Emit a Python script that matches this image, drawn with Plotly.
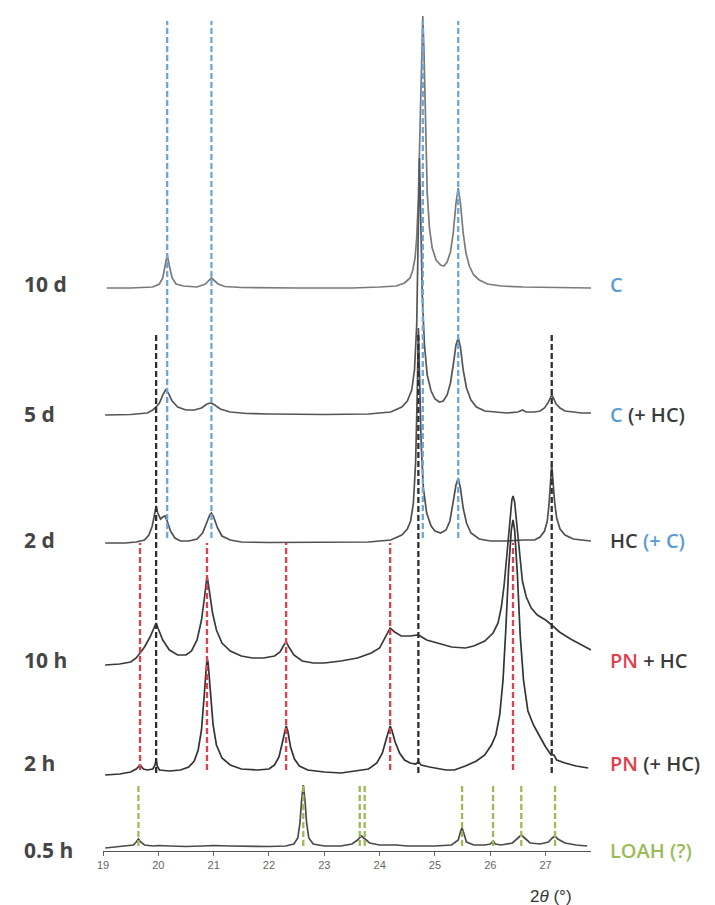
import plotly.graph_objects as go

# ---------------- data ----------------
SAMPLES = ["10 d", "5 d", "2 d", "10 h", "2 h", "0.5 h"]
PHASE_LABELS = [
    "<span style='color:#5b9bd5'>C</span>",
    "<span style='color:#5b9bd5'>C</span> (+ HC)",
    "HC <span style='color:#5b9bd5'>(+ C)</span>",
    "<span style='color:#e0404c'>PN</span> + HC",
    "<span style='color:#e0404c'>PN</span> (+ HC)",
    "<span style='color:#9bbb59'>LOAH (?)</span>",
]
# vertical stacking offsets (intensity units)
OFFSETS = [563, 436, 308, 186, 76, 3]

X_10D = [19.07, 19.5, 19.9, 20.02, 20.08, 20.12, 20.16, 20.2, 20.25, 20.32, 20.45, 20.7, 20.85, 20.92,
         20.96, 21.0, 21.08, 21.2, 21.5, 22.5, 23.5, 24.0, 24.3, 24.45, 24.55, 24.6, 24.64, 24.67, 24.7,
         24.73, 24.76, 24.78, 24.8, 24.83, 24.86, 24.9, 24.95, 25.02, 25.1, 25.16, 25.22, 25.28, 25.33,
         25.38, 25.42, 25.46, 25.51, 25.56, 25.62, 25.7, 25.8, 25.95, 26.2, 26.6, 27.2, 27.82]
Y_10D = [0, 0, 1, 4, 10, 22, 33, 22, 10, 4, 2, 1, 4, 8,
         10, 8, 4, 1.5, 0.5, 0, 0, 1, 2, 5, 10, 18, 30, 50, 90,
         160, 240, 272, 240, 160, 95, 60, 40, 28, 23, 22, 26, 36, 55,
         85, 100, 85, 55, 35, 22, 13, 8, 4, 2, 1, 0.5, 0]

X_5D = [19.04, 19.5, 19.8, 19.9, 19.96, 20.02, 20.08, 20.13, 20.18, 20.25, 20.35, 20.5, 20.65, 20.78,
        20.88, 20.95, 21.02, 21.12, 21.3, 21.6, 22.0, 23.0, 23.8, 24.2, 24.4, 24.5, 24.58, 24.63, 24.67,
        24.7, 24.72, 24.745, 24.77, 24.81, 24.86, 24.93, 25.0, 25.08, 25.15, 25.22, 25.28, 25.33, 25.38,
        25.42, 25.46, 25.51, 25.57, 25.65, 25.75, 25.9, 26.1, 26.3, 26.5, 26.58, 26.65, 26.8, 26.9,
        26.98, 27.04, 27.08, 27.11, 27.14, 27.19, 27.26, 27.35, 27.5, 27.65, 27.82]
Y_5D = [0, 0.5, 2, 5, 8, 12, 20, 25, 22, 14, 8, 5, 5, 7,
        11, 12, 10, 6, 3, 1.5, 1, 0.5, 1, 3, 8, 14, 25, 45, 90,
        170, 257, 190, 120, 70, 40, 24, 16, 13, 14, 20, 32, 50, 70,
        77, 68, 45, 27, 15, 8, 4, 3, 2, 3, 5, 3, 3, 4,
        7, 12, 17, 20, 17, 11, 7, 4, 3, 2, 2]

X_2D = [19.04, 19.4, 19.6, 19.75, 19.83, 19.89, 19.93, 19.96, 19.99, 20.04, 20.08, 20.12, 20.16, 20.22,
        20.3, 20.4, 20.55, 20.7, 20.8, 20.87, 20.93, 20.96, 21.0, 21.07, 21.15, 21.3, 21.5, 22.0, 23.0,
        23.8, 24.2, 24.4, 24.5, 24.56, 24.61, 24.65, 24.68, 24.7, 24.72, 24.75, 24.79, 24.85, 24.93,
        25.0, 25.1, 25.2, 25.27, 25.33, 25.38, 25.42, 25.46, 25.51, 25.57, 25.65, 25.8, 26.0, 26.3,
        26.6, 26.8, 26.9, 26.98, 27.03, 27.06, 27.09, 27.11, 27.13, 27.16, 27.2, 27.26, 27.35, 27.5,
        27.65, 27.82]
Y_2D = [0, 0, 1, 3, 8, 17, 28, 37, 30, 24, 26, 27, 22, 12,
        5, 2, 2, 4, 10, 20, 28, 30, 26, 15, 7, 3, 1, 0.5, 0.5,
        1, 3, 8, 14, 22, 40, 80, 150, 215, 170, 100, 55, 30, 17,
        12, 10, 13, 22, 40, 58, 65, 55, 35, 20, 10, 4, 2, 2,
        3, 3, 6, 12, 22, 38, 62, 78, 65, 42, 25, 14, 8, 4,
        3, 2]

X_10H = [19.04, 19.3, 19.5, 19.6, 19.67, 19.75, 19.85, 19.92, 19.96, 20.0, 20.08, 20.2, 20.35, 20.5,
         20.6, 20.7, 20.78, 20.84, 20.88, 20.92, 20.98, 21.05, 21.15, 21.3, 21.5, 21.7, 21.9, 22.1,
         22.2, 22.27, 22.31, 22.36, 22.45, 22.6, 22.8, 23.0, 23.3, 23.6, 23.85, 24.0, 24.1, 24.19,
         24.27, 24.39, 24.55, 24.7, 24.85, 25.06, 25.3, 25.55, 25.7, 25.9, 26.05, 26.14, 26.2, 26.25,
         26.3, 26.35, 26.39, 26.41, 26.44, 26.48, 26.53, 26.58, 26.65, 26.74, 26.85, 27.0, 27.11,
         27.25, 27.45, 27.65, 27.82]
Y_10H = [0, 1, 3, 7, 12, 18, 28, 38, 42, 36, 25, 15, 10, 10,
         14, 25, 45, 70, 89, 75, 52, 35, 22, 14, 9, 7, 7, 9,
         13, 20, 23, 18, 10, 4, 2, 2, 4, 7, 12, 17, 27, 37,
         33, 29, 29, 30, 25, 22, 18, 17, 19, 24, 32, 42, 58, 80,
         110, 145, 165, 169, 163, 140, 108, 84, 68, 57, 50, 45, 40,
         33, 26, 20, 15]

X_2H = [19.04, 19.3, 19.5, 19.6, 19.67, 19.73, 19.8, 19.9, 19.94, 19.96, 19.98, 20.02, 20.2, 20.4,
        20.55, 20.65, 20.72, 20.78, 20.83, 20.86, 20.88, 20.9, 20.94, 20.99, 21.05, 21.15, 21.3, 21.5,
        21.8, 22.0, 22.1, 22.18, 22.24, 22.29, 22.31, 22.34, 22.39, 22.46, 22.55, 22.7, 23.0, 23.3,
        23.6, 23.8, 23.95, 24.05, 24.12, 24.17, 24.19, 24.22, 24.28, 24.36, 24.45, 24.55, 24.65, 24.7,
        24.75, 24.9, 25.0, 25.2, 25.35, 25.55, 25.75, 25.9, 26.02, 26.1, 26.17, 26.23, 26.28, 26.33,
        26.38, 26.41, 26.44, 26.49, 26.54, 26.6, 26.68, 26.78, 26.88, 27.0, 27.1, 27.15, 27.2, 27.35,
        27.55, 27.77]
Y_2H = [0, 1, 3, 6, 10, 6, 5, 6, 10, 15, 9, 5, 4, 5,
        8, 14, 25, 45, 80, 105, 117, 112, 85, 50, 30, 17, 10, 6,
        5, 6, 10, 18, 32, 46, 49, 44, 28, 16, 9, 5, 3, 2,
        4, 6, 12, 22, 36, 46, 49, 45, 33, 22, 15, 12, 11, 13,
        10, 8, 7, 5, 5, 9, 14, 20, 30, 40, 60, 95, 145, 205,
        245, 255, 245, 200, 140, 95, 64, 50, 40, 28, 20, 20, 15, 12,
        9, 7]

X_05H = [19.04, 19.2, 19.4, 19.55, 19.6, 19.64, 19.68, 19.75, 19.9, 20.0, 20.2, 20.5, 20.8, 21.0,
         21.3, 21.6, 22.0, 22.3, 22.45, 22.52, 22.56, 22.59, 22.62, 22.65, 22.68, 22.72, 22.8, 23.0,
         23.3, 23.5, 23.6, 23.67, 23.74, 23.82, 24.0, 24.3, 24.5, 25.0, 25.3, 25.42, 25.47, 25.49,
         25.52, 25.57, 25.7, 25.9, 26.0, 26.05, 26.09, 26.2, 26.4, 26.5, 26.56, 26.62, 26.72, 26.9,
         27.05, 27.12, 27.17, 27.22, 27.35, 27.55, 27.75]
Y_05H = [0, 1, 2, 3, 6, 9, 6, 3, 2, 2.5, 2, 1.5, 2, 2.5,
         2, 1.5, 1.5, 2, 4, 10, 25, 48, 63, 48, 25, 10, 4, 2,
         2, 4, 8, 12, 9, 5, 3, 3, 2, 2, 3, 8, 18, 20,
         15, 6, 3, 3, 4, 7, 4, 3, 5, 10, 13, 10, 5, 4,
         6, 10, 12, 9, 5, 3, 2]

PATTERNS_X = [X_10D, X_5D, X_2D, X_10H, X_2H, X_05H]
PATTERNS_Y = [Y_10D, Y_5D, Y_2D, Y_10H, Y_2H, Y_05H]

# reference reflections (2θ, °) and the intensity span of each marker group
C_PEAKS = [20.16, 20.96, 24.78, 25.42]
HC_PEAKS = [19.96, 24.70, 27.11]
PN_PEAKS = [19.67, 20.88, 22.31, 24.19, 26.41]
LOAH_PEAKS = [19.64, 22.62, 23.64, 23.73, 25.49, 26.05, 26.56, 27.17]
C_SPAN = [313, 830]
HC_SPAN = [78, 518]
PN_SPAN = [81, 308]
LOAH_SPAN = [5, 66]

X_TICKS = [19, 20, 21, 22, 23, 24, 25, 26, 27]
X_RANGE = [19, 27.82]
Y_RANGE = [0, 838]

# ---------------- figure ----------------
TRACE_COLORS = ["#7a7a7a", "#555555", "#505050", "#3a3a3a", "#333333", "#4a4a4a"]

fig = go.Figure()

for name, xs, ys, off, col in zip(SAMPLES, PATTERNS_X, PATTERNS_Y, OFFSETS, TRACE_COLORS):
    fig.add_trace(go.Scatter(
        x=xs, y=[v + off for v in ys], mode="lines", name=name,
        line=dict(color=col, width=1.7), hoverinfo="skip", showlegend=False))


def add_markers(peaks, span, color):
    xs, ys = [], []
    for p in peaks:
        xs += [p, p, None]
        ys += [span[0], span[1], None]
    fig.add_trace(go.Scatter(x=xs, y=ys, mode="lines", showlegend=False, hoverinfo="skip",
                             line=dict(color=color, width=2.3, dash="6px,3px")))


add_markers(C_PEAKS, C_SPAN, "#6fa6d8")
add_markers(HC_PEAKS, HC_SPAN, "#2f2f2f")
add_markers(PN_PEAKS, PN_SPAN, "#e0404c")
add_markers(LOAH_PEAKS, LOAH_SPAN, "#9bbb59")

LABEL_NUDGE = [4, 1, 3, 5, 12, -2]
annotations = []
for name, lab, off, nud in zip(SAMPLES, PHASE_LABELS, OFFSETS, LABEL_NUDGE):
    annotations.append(dict(x=-0.166, y=off + nud, xref="paper", yref="y", text=f"<b>{name}</b>",
                            showarrow=False, xanchor="left", yanchor="middle",
                            font=dict(family="Open Sans", size=21, color="#454545")))
    annotations.append(dict(x=1.035, y=off + nud, xref="paper", yref="y", text=lab,
                            showarrow=False, xanchor="left", yanchor="middle",
                            font=dict(family="Open Sans", size=20, color="#3a3a3a", weight=600)))

annotations.append(dict(x=0.965, y=-0.054, xref="paper", yref="paper", text="2<i>θ</i> (°)",
                        showarrow=False, xanchor="right", yanchor="middle",
                        font=dict(family="Liberation Sans", size=17, color="#333333")))

fig.update_layout(
    width=715, height=905,
    margin=dict(l=95, r=132, t=5, b=62, autoexpand=False),
    paper_bgcolor="white", plot_bgcolor="white",
    annotations=annotations,
    xaxis=dict(range=X_RANGE, tickvals=X_TICKS, ticktext=[str(t) for t in X_TICKS],
               showgrid=False, zeroline=False, showline=True, linecolor="#555555", linewidth=1.2,
               ticks="outside", ticklen=4, tickcolor="#666666", tickwidth=1,
               tickfont=dict(family="Liberation Sans Narrow, Liberation Sans", size=11, color="#666666"),
               fixedrange=True),
    yaxis=dict(range=Y_RANGE, visible=False, fixedrange=True),
)

fig.write_html("out.html")
